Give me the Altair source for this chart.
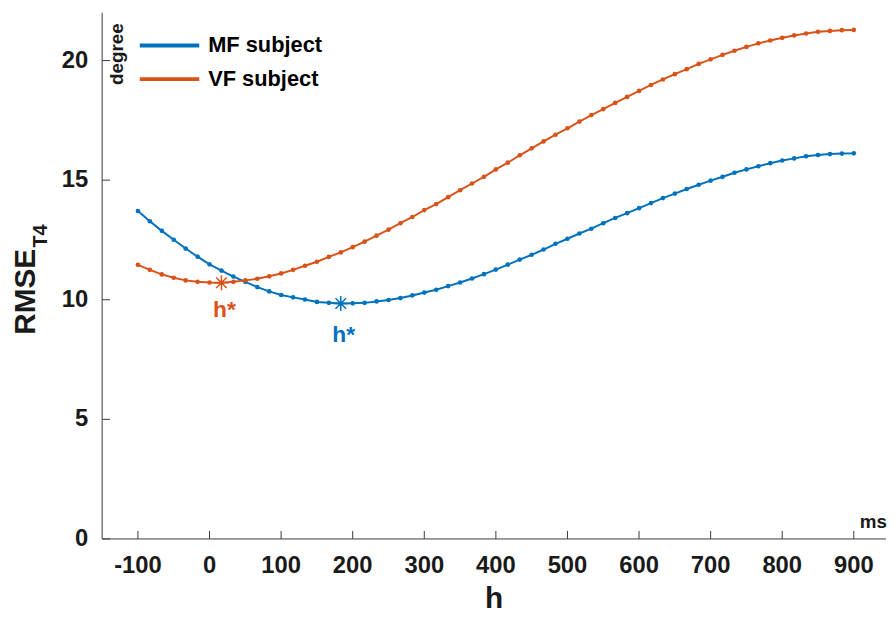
import altair as alt
import pandas as pd

# ---------------- data ----------------
series_names = ["MF subject", "VF subject"]
series_colors = ["#0072BD", "#D95319"]

# sample lags h (ms), one sample every 1000/60 ms
h_values = [round(-100 + i * 50 / 3, 2) for i in range(61)]

mf_rmse = [13.71, 13.28, 12.88, 12.51, 12.14, 11.80, 11.48, 11.22, 10.97, 10.75,
           10.53, 10.35, 10.20, 10.10, 10.01, 9.91, 9.87, 9.84, 9.85, 9.87,
           9.93, 9.99, 10.07, 10.18, 10.30, 10.42, 10.57, 10.72, 10.89, 11.07,
           11.26, 11.47, 11.68, 11.88, 12.10, 12.34, 12.55, 12.77, 12.97, 13.20,
           13.42, 13.62, 13.83, 14.04, 14.25, 14.44, 14.63, 14.81, 14.98, 15.14,
           15.31, 15.45, 15.58, 15.71, 15.82, 15.91, 16.00, 16.05, 16.09, 16.11,
           16.12]

vf_rmse = [11.46, 11.25, 11.06, 10.92, 10.81, 10.75, 10.72, 10.71, 10.75, 10.81,
           10.88, 10.98, 11.10, 11.25, 11.42, 11.59, 11.79, 11.98, 12.20, 12.43,
           12.68, 12.93, 13.20, 13.46, 13.75, 14.00, 14.29, 14.58, 14.86, 15.14,
           15.45, 15.73, 16.04, 16.33, 16.62, 16.90, 17.17, 17.45, 17.72, 17.97,
           18.23, 18.48, 18.73, 18.98, 19.21, 19.43, 19.64, 19.86, 20.05, 20.24,
           20.41, 20.57, 20.72, 20.84, 20.95, 21.05, 21.13, 21.20, 21.24, 21.27,
           21.28]

# optimal lag h* for each subject
hstar_series = ["MF subject", "VF subject"]
hstar_h = [183.33, 16.67]
hstar_value = [9.84, 10.71]

x_ticks = [-100, 0, 100, 200, 300, 400, 500, 600, 700, 800, 900]
x_tick_labels = ["-100", "0", "100", "200", "300", "400", "500", "600", "700", "800", "900"]
y_ticks = [0, 5, 10, 15, 20]
y_tick_labels = ["0", "5", "10", "15", "20"]

# ---------------- chart ----------------
W, H = 791, 531
FONT = "Liberation Sans"
TXT = "#1a1a1a"
AX = "#3a3a3a"

df = pd.DataFrame({
    "h": h_values * 2,
    "value": mf_rmse + vf_rmse,
    "series": [series_names[0]] * len(mf_rmse) + [series_names[1]] * len(vf_rmse),
})
stars = pd.DataFrame({"h": hstar_h, "value": hstar_value, "series": hstar_series})
xt_df = pd.DataFrame({"t": x_ticks, "lab": x_tick_labels})
yt_df = pd.DataFrame({"t": y_ticks, "lab": y_tick_labels})
one = pd.DataFrame({"k": [0]})

x_scale = alt.Scale(domain=[-150, 945], nice=False, zero=False)
y_scale = alt.Scale(domain=[0, 22], nice=False, zero=False)
c_scale = alt.Scale(domain=series_names, range=series_colors)

X = lambda f: alt.X(f, scale=x_scale, axis=None)
Y = lambda f: alt.Y(f, scale=y_scale, axis=None)

legend = alt.Legend(title=None, orient="none", legendX=36, legendY=23,
                    symbolType="stroke", symbolSize=3600, symbolStrokeWidth=4,
                    clipHeight=20,
                    labelFont=FONT, labelFontSize=22, labelFontWeight="bold",
                    labelColor="black", labelOffset=7, rowPadding=12, padding=0)

lines = alt.Chart(df).mark_line(
    strokeWidth=2,
    point=alt.OverlayMarkDef(filled=True, size=22, opacity=1),
).encode(
    x=X("h:Q"), y=Y("value:Q"),
    color=alt.Color("series:N", scale=c_scale, legend=legend),
)

ASTERISK = "M0,-1L0,1M-1,0L1,0M-0.7,-0.7L0.7,0.7M-0.7,0.7L0.7,-0.7"
star_marks = alt.Chart(stars).mark_point(
    shape=ASTERISK, filled=False, size=230, strokeWidth=1.5, opacity=1
).encode(
    x=X("h:Q"), y=Y("value:Q"),
    color=alt.Color("series:N", scale=c_scale, legend=None),
)

def hstar_label(name, dy):
    return alt.Chart(stars).transform_filter(
        alt.datum.series == name
    ).mark_text(
        text="h*", dy=dy, dx=3, font=FONT, fontSize=23, fontWeight="bold",
        baseline="middle", align="center"
    ).encode(
        x=X("h:Q"), y=Y("value:Q"),
        color=alt.Color("series:N", scale=c_scale, legend=None),
    )

# axes (MATLAB style: inward ticks, no box)
x_domain = alt.Chart(one).mark_rule(color=AX, strokeWidth=1).encode(
    x=alt.value(0), x2=alt.value(W), y=alt.value(H))
y_domain = alt.Chart(one).mark_rule(color=AX, strokeWidth=1).encode(
    y=alt.value(0), y2=alt.value(H), x=alt.value(0))
xt = alt.Chart(xt_df).mark_rule(color=AX, strokeWidth=1).encode(
    x=X("t:Q"), y=alt.value(H), y2=alt.value(H - 8))
yt = alt.Chart(yt_df).mark_rule(color=AX, strokeWidth=1).encode(
    y=Y("t:Q"), x=alt.value(0), x2=alt.value(8))
x_labels = alt.Chart(xt_df).mark_text(
    font=FONT, fontSize=24, fontWeight="bold", color=TXT, align="center", baseline="top"
).encode(x=X("t:Q"), y=alt.value(H + 15), text="lab:N")
y_labels = alt.Chart(yt_df).mark_text(
    font=FONT, fontSize=24, fontWeight="bold", color=TXT, align="right", baseline="middle"
).encode(y=Y("t:Q"), x=alt.value(-14), text="lab:N")

def label(text, x, y, size, angle=0, align="left", baseline="alphabetic"):
    kw = dict(font=FONT, fontSize=size, fontWeight="bold", color=TXT,
              align=align, baseline=baseline)
    if angle:
        kw["angle"] = angle
    return alt.Chart(pd.DataFrame({"label": [text]})).mark_text(**kw).encode(
        text="label:N", x=alt.value(x), y=alt.value(y)
    )

x_title = label("h", W / 2, H + 70, 30, align="center")
y_title = label("RMSE", -68, 325, 30, angle=270)
y_sub = label("T4", -56, 237, 20, angle=270)
unit_y = label("degree", 21, 73, 19, angle=270)
unit_x = label("ms", W + 1, 520, 19, align="right")

chart = alt.layer(
    lines, star_marks,
    hstar_label("VF subject", 28), hstar_label("MF subject", 32),
    x_domain, y_domain, xt, yt, x_labels, y_labels,
    x_title, y_title, y_sub, unit_y, unit_x,
).properties(
    width=W, height=H,
    autosize=alt.AutoSizeParams(type="none"),
    padding={"left": 95, "top": 2, "right": 2, "bottom": 76},
    background="white",
).configure_view(
    stroke=None
)

chart.save("out.html", embed_options={"renderer": "svg", "actions": False})
